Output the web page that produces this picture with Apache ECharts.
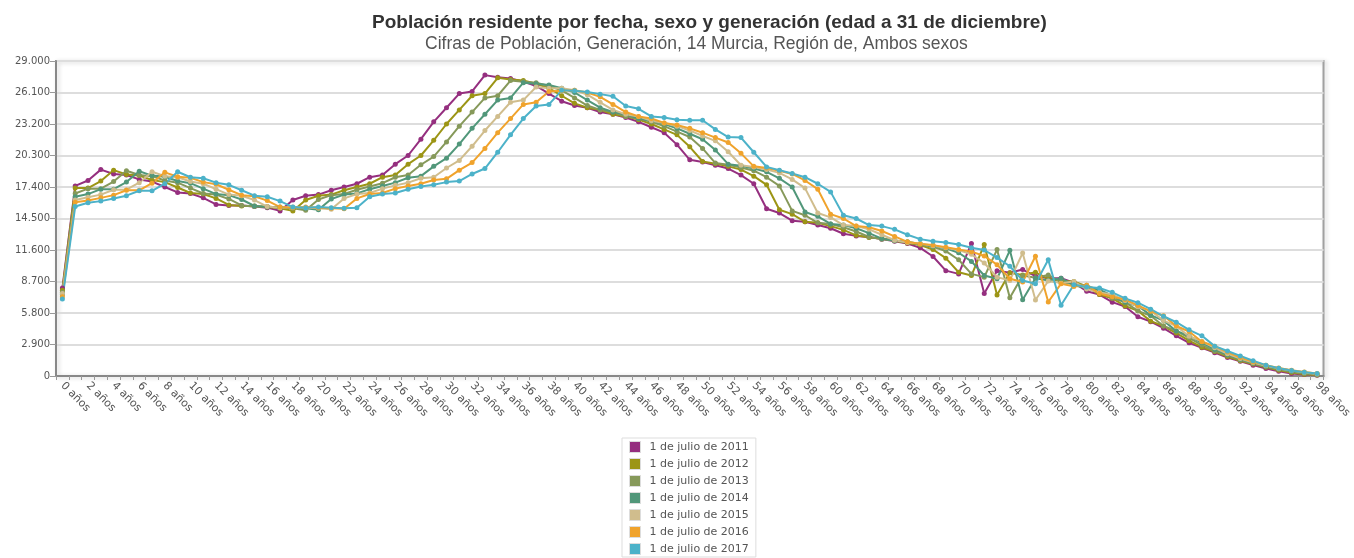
<!DOCTYPE html>
<html>
<head>
<meta charset="UTF-8">
<title>Población residente por fecha, sexo y generación</title>
<script src="https://cdn.jsdelivr.net/npm/echarts@6/dist/echarts.min.js"></script>
<style>
  html, body { margin: 0; padding: 0; background: #fff; }
  #main { width: 1354px; height: 558px; }
</style>
</head>
<body>
<div id="main"></div>
<script>
// edades (eje X)
var edades = ['0 años','1 años','2 años','3 años','4 años','5 años','6 años','7 años','8 años','9 años',
  '10 años','11 años','12 años','13 años','14 años','15 años','16 años','17 años','18 años','19 años',
  '20 años','21 años','22 años','23 años','24 años','25 años','26 años','27 años','28 años','29 años',
  '30 años','31 años','32 años','33 años','34 años','35 años','36 años','37 años','38 años','39 años',
  '40 años','41 años','42 años','43 años','44 años','45 años','46 años','47 años','48 años','49 años',
  '50 años','51 años','52 años','53 años','54 años','55 años','56 años','57 años','58 años','59 años',
  '60 años','61 años','62 años','63 años','64 años','65 años','66 años','67 años','68 años','69 años',
  '70 años','71 años','72 años','73 años','74 años','75 años','76 años','77 años','78 años','79 años',
  '80 años','81 años','82 años','83 años','84 años','85 años','86 años','87 años','88 años','89 años',
  '90 años','91 años','92 años','93 años','94 años','95 años','96 años','97 años','98 años'];

var fechas = ['1 de julio de 2011','1 de julio de 2012','1 de julio de 2013','1 de julio de 2014',
  '1 de julio de 2015','1 de julio de 2016','1 de julio de 2017'];

var colores = ['#952f7f','#9c9515','#86995a','#51977a','#d0bd8d','#f0a32c','#4cb2c9'];

var s2011 = [8100,17500,18000,19000,18600,18500,18100,17900,17400,16900,
  16800,16400,15800,15700,15700,15600,15500,15200,16200,16600,
  16700,17100,17400,17700,18300,18500,19500,20300,21800,23400,
  24700,26000,26200,27700,27500,27400,27100,26700,26000,25300,
  24900,24700,24300,24100,23800,23400,22900,22400,21300,19900,
  19700,19400,19100,18500,17700,15400,15000,14300,14200,13900,
  13600,13100,12900,12800,12600,12400,12200,11800,11000,9700,
  9400,12200,7600,9700,9500,9800,9200,9000,9000,8600,
  7800,7500,6800,6400,5450,5000,4400,3700,3050,2600,
  2150,1700,1350,1000,680,430,230,130,70];

var s2012 = [7900,17300,17300,17950,18950,18550,18450,18050,17850,17350,
  16850,16750,16350,15750,15650,15650,15550,15450,15200,16200,
  16600,16700,17100,17400,17700,18300,18500,19500,20300,21700,
  23200,24500,25800,26000,27450,27300,27200,26900,26500,25800,
  25100,24700,24500,24100,23900,23600,23200,22700,22200,21100,
  19750,19550,19300,19000,18400,17600,15300,14900,14200,14100,
  13800,13450,12950,12750,12650,12450,12250,12050,11650,10850,
  9550,9250,12100,7450,9500,9300,9550,8950,8750,8700,
  8250,7500,7150,6450,6000,5050,4600,3950,3250,2650,
  2250,1800,1400,1100,800,520,330,170,100];

var s2013 = [7700,16800,17250,17250,17900,18900,18500,18400,18000,17800,
  17300,16800,16700,16300,15700,15600,15600,15500,15450,15250,
  16250,16650,16750,17150,17450,17750,18300,18500,19450,20200,
  21550,23000,24300,25600,25800,27200,27100,27000,26700,26300,
  25600,24900,24500,24300,23900,23700,23400,23000,22500,22000,
  20950,19600,19450,19200,18900,18300,17500,15200,14800,14100,
  14000,13700,13300,12800,12600,12500,12300,12100,11900,11500,
  10700,9400,9100,11640,7210,9250,9050,9300,8650,8450,
  8350,7850,7150,6800,6000,5550,4600,4150,3500,2850,
  2300,1900,1480,1150,880,620,400,240,130];

var s2014 = [7500,16500,16750,17200,17200,17850,18850,18450,18350,17950,
  17750,17250,16750,16650,16250,15650,15550,15550,15500,15450,
  15300,16300,16700,16800,17200,17500,17800,18250,18400,19300,
  20050,21350,22800,24100,25400,25600,27000,26900,26800,26500,
  26100,25400,24700,24300,24100,23700,23500,23200,22800,22300,
  21800,20800,19500,19350,19100,18800,18200,17400,15100,14700,
  14000,13900,13600,13150,12650,12450,12350,12150,11950,11750,
  11350,10550,9250,8950,11570,7030,9000,8800,9000,8350,
  8100,7950,7400,6800,6450,5600,5100,4150,3700,3050,
  2450,1950,1550,1200,900,670,460,290,160];

var s2015 = [7600,16200,16450,16700,17150,17150,17800,18800,18400,18300,
  17900,17700,17200,16700,16600,16200,15600,15500,15550,15500,
  15450,15350,16350,16750,16850,17250,17550,17800,18200,18300,
  19150,19850,21150,22600,23900,25200,25400,26600,26500,26500,
  26300,25900,25200,24500,24100,23900,23500,23300,23000,22600,
  22100,21650,20650,19400,19250,19000,18700,18100,17300,15000,
  14600,13900,13800,13500,13000,12500,12300,12200,12000,11800,
  11600,11200,10400,9100,8800,11320,7000,8750,8550,8700,
  8000,7700,7500,6950,6400,6000,5100,4600,3650,3200,
  2600,2050,1600,1250,950,700,500,330,190];

var s2016 = [7300,16000,16150,16400,16650,17100,17100,17750,18750,18350,
  18250,17850,17650,17150,16650,16550,16150,15550,15500,15550,
  15500,15450,15400,16350,16750,16850,17250,17500,17700,18050,
  18150,18950,19650,20950,22400,23700,25000,25200,26200,26250,
  26300,26100,25700,25000,24300,23900,23700,23300,23100,22800,
  22400,21950,21500,20500,19300,19150,18900,18600,18000,17200,
  14900,14500,13800,13700,13350,12850,12350,12150,12050,11850,
  11650,11450,11050,10250,8950,8650,11020,6810,8500,8250,
  8350,7600,7300,7050,6500,5950,5550,4600,4100,3150,
  2750,2200,1700,1300,1000,730,530,360,220];

var s2017 = [7100,15600,15950,16100,16350,16600,17050,17050,17700,18800,
  18300,18200,17800,17600,17100,16600,16500,16100,15550,15500,
  15550,15500,15450,15500,16500,16750,16850,17200,17450,17600,
  17850,17950,18600,19100,20600,22200,23700,24850,25000,26300,
  26250,26150,25950,25750,24850,24600,23900,23800,23600,23550,
  23550,22700,22000,21950,20600,19250,18950,18650,18300,17700,
  16950,14800,14500,13900,13800,13500,13000,12600,12400,12300,
  12100,11800,11600,10900,10100,8800,8500,10710,6510,8400,
  8200,8100,7700,7150,6750,6150,5500,4950,4250,3700,
  2750,2300,1850,1400,1000,720,500,340,230];

var datos = [s2011, s2012, s2013, s2014, s2015, s2016, s2017];

function miles(v) {
  return String(v).replace(/\B(?=(\d{3})+(?!\d))/g, '.');
}

var chart = echarts.init(document.getElementById('main'));

var series = [];
for (var i = 0; i < fechas.length; i++) {
  series.push({
    name: fechas[i],
    type: 'line',
    data: datos[i],
    symbol: 'circle',
    symbolSize: 5,
    showSymbol: true,
    lineStyle: { width: 2, color: colores[i] },
    itemStyle: { color: colores[i] },
    emphasis: { disabled: true },
    animation: false
  });
}

chart.setOption({
  animation: false,
  backgroundColor: '#fff',
  title: [{
    text: 'Población residente por fecha, sexo y generación (edad a 31 de diciembre)',
    left: 372, top: 13,
    padding: 0,
    textStyle: { fontFamily: 'Liberation Sans, Arial, sans-serif', fontSize: 19, fontWeight: 'bold', color: '#333' }
  }, {
    text: 'Cifras de Población, Generación, 14 Murcia, Región de, Ambos sexos',
    left: 425, top: 35,
    padding: 0,
    textStyle: { fontFamily: 'Liberation Sans, Arial, sans-serif', fontSize: 17.5, fontWeight: 'normal', color: '#555' }
  }],
  legend: {
    orient: 'vertical',
    left: 622, top: 438,
    height: 124,
    itemWidth: 11, itemHeight: 11, itemGap: 5,
    icon: 'rect',
    padding: [3, 7, 2, 7],
    borderColor: '#ddd', borderWidth: 1,
    data: fechas,
    itemStyle: { borderColor: '#ddd', borderWidth: 1 },
    textStyle: { fontFamily: 'DejaVu Sans, Verdana, sans-serif', fontSize: 11, lineHeight: 11, color: '#555', padding: [0, 0, 0, 4] }
  },
  grid: {
    left: 56, right: 28, top: 61, bottom: 182,
    show: true, borderColor: '#a0a0a0', borderWidth: 2,
    shadowColor: 'rgba(0,0,0,0.18)', shadowBlur: 4, shadowOffsetX: 2, shadowOffsetY: 1
  },
  xAxis: {
    type: 'category',
    data: edades,
    boundaryGap: true,
    axisLine: { lineStyle: { color: '#888', width: 2 } },
    axisTick: { show: true, interval: 0, length: 4, lineStyle: { color: '#999' } },
    axisLabel: {
      interval: 1, rotate: -45, margin: 8,
      fontFamily: 'DejaVu Sans, Verdana, sans-serif', fontSize: 11, color: '#555'
    },
    splitLine: { show: false }
  },
  yAxis: {
    type: 'value',
    min: 0, max: 29000, interval: 2900,
    axisLine: { show: true, lineStyle: { color: '#888', width: 2 } },
    axisTick: { show: true, length: 6, lineStyle: { color: '#999' } },
    axisLabel: {
      margin: 6, formatter: miles,
      fontFamily: 'DejaVu Sans, Verdana, sans-serif', fontSize: 10, color: '#555'
    },
    splitLine: { lineStyle: { color: '#ddd', width: 2 } }
  },
  series: series
});
</script>
</body>
</html>
